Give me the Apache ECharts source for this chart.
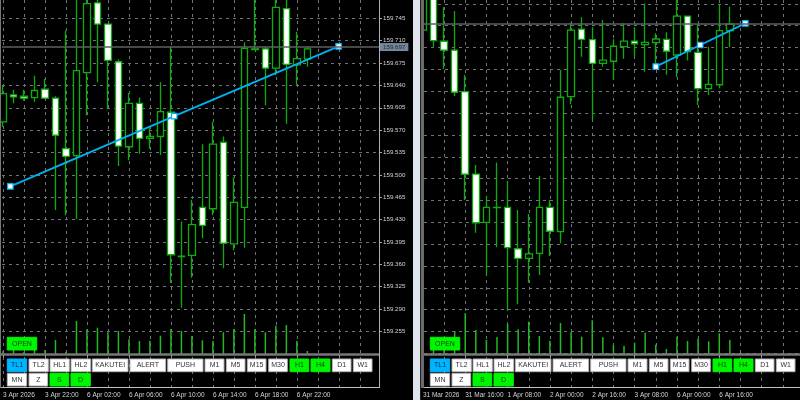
<!DOCTYPE html>
<html><head><meta charset="utf-8">
<style>html,body{margin:0;padding:0;background:#000}#c{width:800px;height:400px}</style>
<script src="https://cdn.jsdelivr.net/npm/echarts@6/dist/echarts.min.js"></script>
</head><body><div id="c"></div>
<script>
// H1 chart: [open, close, low, high]
const h1Candles = [
[159.583,159.627,159.575,159.640],[159.625,159.622,159.612,159.633],[159.623,159.620,159.616,159.633],
[159.621,159.632,159.614,159.655],[159.634,159.620,159.620,159.650],[159.620,159.562,159.445,159.623],
[159.541,159.529,159.437,159.726],[159.530,159.663,159.431,159.800],[159.660,159.768,159.593,159.800],
[159.769,159.736,159.645,159.790],[159.736,159.679,159.603,159.736],[159.677,159.545,159.514,159.681],
[159.544,159.612,159.523,159.628],[159.612,159.557,159.533,159.621],[159.557,159.560,159.541,159.573],
[159.560,159.599,159.531,159.645],[159.598,159.375,159.331,159.701],[159.373,159.372,159.292,159.427],
[159.374,159.422,159.339,159.461],[159.449,159.421,159.401,159.548],[159.447,159.548,159.437,159.583],
[159.551,159.393,159.354,159.560],[159.392,159.457,159.382,159.496],[159.449,159.698,159.386,159.707],
[159.696,159.697,159.696,159.790],[159.697,159.667,159.609,159.701],[159.667,159.762,159.656,159.790],
[159.760,159.673,159.580,159.790],[159.672,159.682,159.641,159.724],[159.681,159.697,159.669,159.700]];
const h1Volume = [300,400,200,400,400,1400,230,3300,2470,2630,2170,2300,1470,1300,1330,1830,2500,2300,1800,1370,1300,2170,2500,4000,2500,2170,2830,2900,1300,300];
const h1TimeLabels = ['3 Apr 2026','3 Apr 22:00','6 Apr 02:00','6 Apr 06:00','6 Apr 10:00','6 Apr 14:00','6 Apr 18:00','6 Apr 22:00'];
const h1PriceTicks = [159.255,159.290,159.325,159.360,159.395,159.430,159.465,159.500,159.535,159.570,159.605,159.640,159.675,159.710,159.745];
const h1Trend = [[0.96,159.482],[16.46,159.592],[32,159.701]];

// H4 chart: [open, close, low, high]
const h4Candles = [
[159.668,159.830,159.668,159.850],[159.850,159.617,159.588,159.860],[159.614,159.571,159.481,159.777],
[159.571,159.369,159.351,159.759],[159.372,158.975,158.851,159.452],[158.976,158.742,158.694,159.020],
[158.744,158.816,158.491,158.872],[158.816,158.815,158.624,159.031],[158.816,158.622,158.323,158.943],
[158.617,158.571,158.350,158.803],[158.571,158.592,158.454,158.784],[158.595,158.816,158.491,158.967],
[158.816,158.701,158.582,158.851],[158.699,159.345,158.643,159.476],[159.348,159.668,159.311,159.703],
[159.672,159.623,159.540,159.729],[159.622,159.508,159.236,159.681],[159.508,159.523,159.492,159.716],
[159.518,159.590,159.428,159.624],[159.588,159.615,159.530,159.700],[159.615,159.602,159.540,159.681],
[159.598,159.609,159.468,159.796],[159.607,159.625,159.500,159.652],[159.623,159.566,159.453,159.657],
[159.548,159.735,159.441,159.830],[159.735,159.564,159.521,159.735],[159.561,159.386,159.308,159.697],
[159.386,159.407,159.356,159.588],[159.405,159.665,159.388,159.790],[159.665,159.697,159.585,159.780]];
const h4Volume = [300,400,400,2300,4070,2400,1400,1700,3000,2470,3230,1800,1330,3100,2200,1730,3370,1670,900,830,1130,2130,930,500,1730,1300,1530,1270,2070,1400];
const h4TimeLabels = ['31 Mar 2026','31 Mar 16:00','1 Apr 08:00','2 Apr 00:00','2 Apr 16:00','3 Apr 08:00','6 Apr 00:00','6 Apr 16:00'];
const h4PriceTicks = [158.114,158.219,158.324,158.429,158.534,158.639,158.744,158.849,158.954,159.059,159.164,159.269,159.374,159.479,159.584,159.689,159.794];
const h4Trend = [[22,159.492],[26.2,159.596],[30.46,159.700]];

const bidPrice = 159.697;
const bidLabel = '159.697';
const row1 = ['TL1','TL2','HL1','HL2','KAKUTEI','ALERT','PUSH','M1','M5','M15','M30','H1','H4','D1','W1'];
const row2 = ['MN','Z','S','D'];
const openLabel = 'OPEN';

const row1Spans = [[7.3,26.7],[29,48.3],[50,69.3],[71,90.7],[92.3,128],[130,165.7],[167.7,203],[205,224],[226.3,245],[247.3,266],[268.7,287.3],[290,308.7],[311,330],[332.3,351],[353.3,372]];
const row2Spans = [[7.3,26.7],[29,47.7],[50,68.7],[71,90.3]];
const GREEN='#00f500', BLUE='#00b4ff', FONT='"Liberation Sans",Arial,sans-serif';
const fill = t => t==='TL1'?BLUE:(['H1','H4','S','D',openLabel].includes(t)?GREEN:'#fff');

const gridColor='#6d747c', candleEdge='#0cae0c', lineBlue='#00b2f2';
const options={animation:false,backgroundColor:'#000',grid:[],xAxis:[],yAxis:[],series:[],graphic:[]};

function panel(o){
  const g=options.grid.length, xa=options.xAxis.length, ya=options.yAxis.length;
  // price-grid layer
  options.grid.push({left:o.gridLeft,top:0,width:o.gridRight-o.gridLeft,height:o.band});
  options.xAxis.push({gridIndex:g,type:'value',show:false,min:(o.gridLeft-o.x0)/o.step,max:(o.gridRight-o.x0)/o.step});
  options.yAxis.push({gridIndex:g,type:'value',position:'right',min:o.pMin,max:o.pMax,scale:true,
    axisLine:{show:false},
    axisTick:{show:o.labels,length:3,customValues:o.ticks,lineStyle:{color:'#aaa'}},
    axisLabel:{show:o.labels,customValues:o.ticks,margin:4,color:'#d4d4d4',fontSize:6.2,fontFamily:FONT,formatter:v=>v.toFixed(3)},
    splitLine:{show:true,lineStyle:{color:gridColor,type:[3,4],width:1}}});
  // candle layer
  options.grid.push({left:o.x0,top:0,width:o.step*35,height:o.axisY});
  const cats=Array.from({length:36},(_,i)=>String(i));
  options.xAxis.push({gridIndex:g+1,type:'category',data:cats,boundaryGap:false,
    axisLine:{show:false},
    axisTick:{show:true,length:3,interval:3,lineStyle:{color:'#bbb'}},
    axisLabel:{interval:3,align:'left',margin:4,color:'#d4d4d4',fontSize:6.5,fontFamily:FONT,showMinLabel:true,
      formatter:(v,i)=>o.times[i/4]||''},
    splitLine:{show:true,interval:1,lineStyle:{color:gridColor,type:[3,4],width:1}}});
  options.yAxis.push({gridIndex:g+1,type:'value',show:false,min:o.pBottom,max:o.pMax,scale:true,splitLine:{show:false}});
  options.yAxis.push({gridIndex:g+1,type:'value',show:false,min:-(o.axisY-o.band)*100,max:o.band*100,splitLine:{show:false}});
  options.series.push({type:'bar',xAxisIndex:xa+1,yAxisIndex:ya+2,data:o.vol,barWidth:1.5,itemStyle:{color:'#25b825'},z:2});
  options.series.push({type:'candlestick',xAxisIndex:xa+1,yAxisIndex:ya+1,data:o.candles,barWidth:7,z:3,
    itemStyle:{color:'#000',color0:'#fff',borderColor:candleEdge,borderColor0:candleEdge,borderWidth:1.3}});
  options.series.push({type:'line',xAxisIndex:xa,yAxisIndex:ya,data:o.trend,z:4,symbol:'rect',symbolSize:5.5,showSymbol:true,
    lineStyle:{color:lineBlue,width:1.8},itemStyle:{color:'#fff',borderColor:lineBlue,borderWidth:1.2},
    markLine:{silent:true,symbol:'none',animation:false,lineStyle:{color:'#5c6064',type:'solid',width:1.5},
      label:o.labels?{show:true,position:'end',formatter:bidLabel,color:'#1c2630',backgroundColor:'#74879a',fontSize:6.2,fontFamily:FONT,padding:[1,3],distance:1}:{show:false},
      data:[{yAxis:bidPrice}]}});
  // panel furniture
  const rect=(x,y,w,h,c)=>options.graphic.push({type:'rect',z:50,silent:true,shape:{x,y,width:w,height:h},style:{fill:c}});
  rect(o.frameLeft,353.3,o.frameRight-o.frameLeft,2.4,'#777');
  rect(o.frameLeft,387,o.frameRight-o.frameLeft,1,'#c0c0c0');
  // buttons
  const btn=(t,s,y,h)=>{
    options.graphic.push({type:'rect',z:60,silent:true,shape:{x:s[0]+o.btnOff,y,width:s[1]-s[0],height:h},
      style:{fill:fill(t),stroke:fill(t)==='#fff'?'#b5b5b5':fill(t),lineWidth:1}});
    options.graphic.push({type:'text',z:61,silent:true,x:(s[0]+s[1])/2+o.btnOff,y:y+h/2,
      style:{text:t,fill:fill(t)==='#fff'?'#333':(t==='TL1'?'#05324a':'#064a06'),fontSize:7,fontFamily:FONT,align:'center',verticalAlign:'middle'}});
  };
  row1.forEach((t,i)=>btn(t,row1Spans[i],359,12.7));
  row2.forEach((t,i)=>btn(t,row2Spans[i],373.3,12.7));
  btn(openLabel,[7.3,36.7],337.3,12.7);
}

panel({x0:0.2,step:10.575,gridLeft:2,gridRight:379,frameLeft:0,frameRight:379,band:354,axisY:387.5,
  pMax:159.7736,pMin:159.2197,pBottom:159.1673,ticks:h1PriceTicks,labels:true,times:h1TimeLabels,
  candles:h1Candles,vol:h1Volume,trend:h1Trend,btnOff:0});
panel({x0:422.9,step:10.585,gridLeft:424,gridRight:800,frameLeft:424,frameRight:800,band:354,axisY:387.5,
  pMax:159.8123,pMin:158.1113,pBottom:157.9503,ticks:h4PriceTicks,labels:false,times:h4TimeLabels,
  candles:h4Candles,vol:h4Volume,trend:h4Trend,btnOff:423});

const r=(x,y,w,h,c)=>options.graphic.push({type:'rect',z:50,silent:true,shape:{x,y,width:w,height:h},style:{fill:c}});
r(0,0,1,388,'#777');        // left frame
r(379,0,1,388,'#b0b0b0');   // price-scale line
r(413,0,7,400,'#dfe5ec');   // splitter
r(420,0,1,400,'#222');
r(421,0,3,388,'#6a6a6a');   // right frame

echarts.init(document.getElementById('c'),null,{renderer:'canvas'}).setOption(options);
</script></body></html>
